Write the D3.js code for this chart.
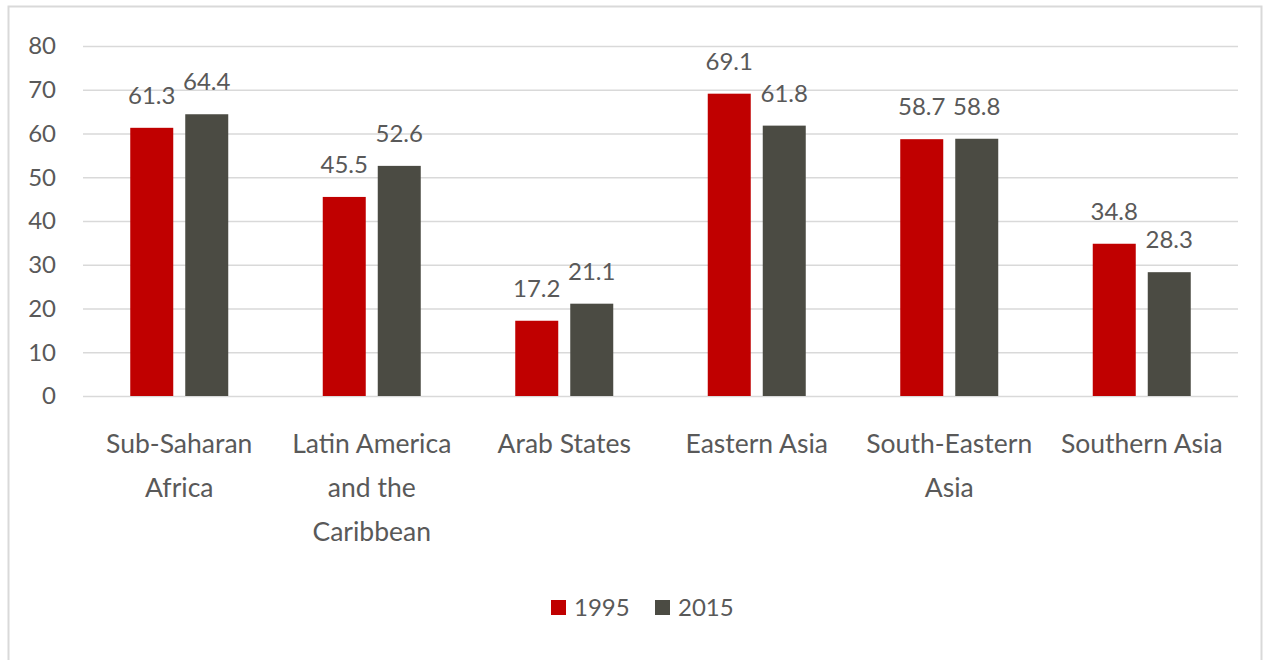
<!DOCTYPE html>
<html>
<head>
  <meta charset="utf-8">
  <script src="https://d3js.org/d3.v7.min.js"></script>
  <style>
    body { margin: 0; background: #fff; }
    text { font-family: Lato, "Open Sans", sans-serif; fill: #595959; }
  </style>
</head>
<body>
<script>
  // data
  var categories = [["Sub-Saharan", "Africa"], ["Latin America", "and the", "Caribbean"], ["Arab States"],
                    ["Eastern Asia"], ["South-Eastern", "Asia"], ["Southern Asia"]];
  var seriesNames = ["1995", "2015"];
  var values1995 = [61.3, 45.5, 17.2, 69.1, 58.7, 34.8];
  var values2015 = [64.4, 52.6, 21.1, 61.8, 58.8, 28.3];
  var yTicks = [0, 10, 20, 30, 40, 50, 60, 70, 80];
  var colors = ["#c00000", "#4b4b43"];

  var W = 1266, H = 660;
  var mLeft = 83, mRight = 1238, mTop = 46, mBottom = 396;

  var svg = d3.select("body").append("svg")
      .attr("width", W).attr("height", H);

  // outer frame
  svg.append("rect")
      .attr("x", 8.5).attr("y", 6.5)
      .attr("width", 1253).attr("height", 660)
      .attr("fill", "none").attr("stroke", "#d9d9d9").attr("stroke-width", 2);

  var idx = d3.range(categories.length);
  var x = d3.scaleBand().domain(idx).range([mLeft, mRight]);
  var y = d3.scaleLinear().domain([0, 80]).range([mBottom, mTop]);

  // gridlines
  svg.append("g").selectAll("line").data(yTicks).enter().append("line")
      .attr("x1", mLeft).attr("x2", mRight)
      .attr("y1", function(d) { return y(d) + 0.5; })
      .attr("y2", function(d) { return y(d) + 0.5; })
      .attr("stroke", "#d9d9d9").attr("stroke-width", 1.5);

  // y tick labels
  svg.append("g").selectAll("text").data(yTicks).enter().append("text")
      .attr("x", 56).attr("y", function(d) { return y(d); })
      .attr("dy", "0.35em")
      .attr("text-anchor", "end")
      .style("font-size", "24px")
      .text(function(d) { return d; });

  var barW = 43, gap = 12;
  var series = [values1995, values2015];

  series.forEach(function(vals, s) {
    var g = svg.append("g");
    var off = s === 0 ? -(barW + gap / 2) : gap / 2;
    g.selectAll("rect").data(vals).enter().append("rect")
        .attr("x", function(d, i) { return x(i) + x.bandwidth() / 2 + off; })
        .attr("y", function(d) { return y(d); })
        .attr("width", barW)
        .attr("height", function(d) { return y(0) - y(d); })
        .attr("fill", colors[s]);
    // value labels sit ~24px above the bar top (baseline)
    g.selectAll("text").data(vals).enter().append("text")
        .attr("x", function(d, i) { return x(i) + x.bandwidth() / 2 + off + barW / 2; })
        .attr("y", function(d) { return y(d) - 24; })
        .attr("text-anchor", "middle")
        .style("font-size", "24px")
        .text(function(d) { return d3.format(".1f")(d); });
  });

  // category labels
  var cat = svg.append("g").selectAll("text").data(categories).enter().append("text")
      .attr("x", function(d, i) { return x(i) + x.bandwidth() / 2; })
      .attr("y", 453)
      .attr("text-anchor", "middle")
      .style("font-size", "26.5px");
  cat.selectAll("tspan").data(function(d) { return d; }).enter().append("tspan")
      .attr("x", function() { return d3.select(this.parentNode).attr("x"); })
      .attr("dy", function(d, i) { return i === 0 ? 0 : 44; })
      .text(function(d) { return d; });

  // legend
  var legX = [551, 655];
  var leg = svg.append("g").selectAll("g").data(seriesNames).enter().append("g")
      .attr("transform", function(d, i) { return "translate(" + legX[i] + ",600)"; });
  leg.append("rect").attr("width", 15).attr("height", 15)
      .attr("fill", function(d, i) { return colors[i]; });
  leg.append("text").attr("x", 23).attr("y", 8).attr("dy", "0.35em")
      .style("font-size", "24px")
      .text(function(d) { return d; });
</script>
</body>
</html>
